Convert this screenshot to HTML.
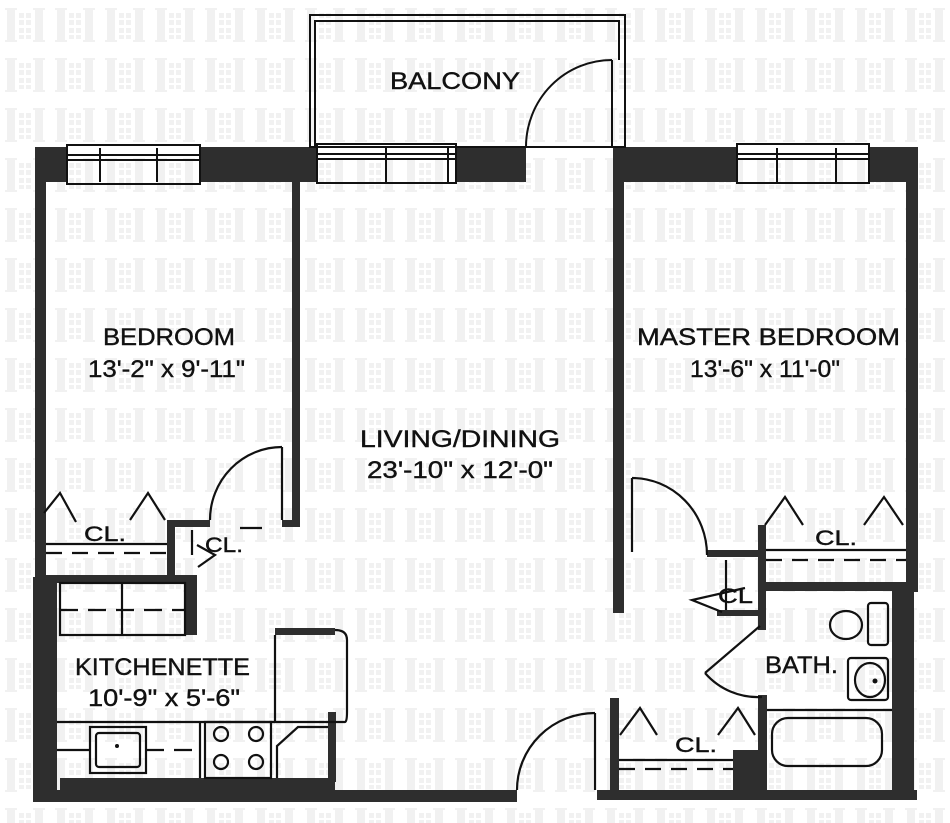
<!DOCTYPE html>
<html><head><meta charset="utf-8"><style>
html,body{margin:0;padding:0;background:#fff;}
svg{display:block}
text{font-family:"Liberation Sans Narrow","Liberation Sans",sans-serif;fill:#111;stroke:#111;stroke-width:0.4;}
</style></head><body>
<svg width="950" height="823" viewBox="0 0 950 823" xmlns="http://www.w3.org/2000/svg">
<defs>
<pattern id="wm" x="0" y="0" width="50" height="50" patternUnits="userSpaceOnUse">
<g fill="#f1f1f1">
<rect x="7" y="8" width="8" height="34"/>
<rect x="35" y="8" width="8" height="34"/>
<rect x="5" y="8" width="12" height="2"/><rect x="5" y="40" width="12" height="2"/>
<rect x="33" y="8" width="12" height="2"/><rect x="33" y="40" width="12" height="2"/>
<rect x="19" y="13" width="5" height="5"/><rect x="26" y="13" width="5" height="5"/>
<rect x="19" y="20" width="5" height="5"/><rect x="26" y="20" width="5" height="5"/>
<rect x="19" y="28" width="5" height="5"/><rect x="26" y="28" width="5" height="5"/>
<rect x="19" y="35" width="5" height="4"/><rect x="26" y="35" width="5" height="4"/>
</g>
</pattern>
</defs>
<rect width="950" height="823" fill="#fff"/>
<rect width="950" height="823" fill="url(#wm)"/>

<g fill="#2e2e2e">
<rect x="37" y="147" width="30" height="35"/>
<rect x="200" y="147" width="117" height="35"/>
<rect x="456" y="147" width="70" height="35"/>
<rect x="613" y="147" width="124" height="35"/>
<rect x="869" y="147" width="49" height="35"/>
<rect x="35" y="147" width="11" height="440"/>
<rect x="33" y="577" width="24" height="225"/>
<rect x="906" y="147" width="12" height="445"/>
<rect x="892" y="582" width="22" height="218"/>
<rect x="33" y="790" width="484" height="12"/>
<rect x="597" y="790" width="320" height="10"/>
<rect x="60" y="778" width="275" height="14"/>
<rect x="292" y="182" width="8" height="345"/>
<rect x="282" y="520" width="18" height="7"/>
<rect x="613" y="182" width="11" height="431"/>
<rect x="167" y="520" width="8" height="60"/>
<rect x="167" y="520" width="43" height="7"/>
<rect x="37" y="575" width="160" height="8"/>
<rect x="185" y="583" width="12" height="52"/>
<rect x="275" y="628" width="60" height="7"/>
<rect x="328" y="712" width="8" height="70"/>
<rect x="707" y="550" width="56" height="7"/>
<rect x="758" y="525" width="8" height="105"/>
<rect x="762" y="582" width="145" height="9"/>
<rect x="717" y="610" width="46" height="6"/>
<rect x="758" y="695" width="9" height="100"/>
<rect x="733" y="750" width="30" height="45"/>
<rect x="610" y="698" width="9" height="95"/>
</g>

<g fill="none" stroke="#111" stroke-width="2">
<rect x="310" y="15" width="315" height="132"/>
<polyline points="315,147 315,21 619,21 619,60"/>
<line x1="612" y1="60" x2="612" y2="147"/>
<path d="M612,60 A86,87 0 0 0 526,147"/>
</g>

<g fill="none" stroke="#111" stroke-width="2">
<rect x="67" y="145" width="133" height="39"/>
<line x1="67" y1="155" x2="200" y2="155"/><line x1="67" y1="160" x2="200" y2="160"/>
<line x1="100" y1="148" x2="100" y2="182"/><line x1="157" y1="148" x2="157" y2="182"/>
<rect x="317" y="144" width="139" height="39"/>
<line x1="317" y1="154" x2="456" y2="154"/><line x1="317" y1="159" x2="456" y2="159"/>
<line x1="386" y1="148" x2="386" y2="182"/><line x1="448" y1="148" x2="448" y2="182"/>
<rect x="737" y="144" width="132" height="39"/>
<line x1="737" y1="154" x2="869" y2="154"/><line x1="737" y1="159" x2="869" y2="159"/>
<line x1="777" y1="148" x2="777" y2="182"/><line x1="836" y1="148" x2="836" y2="182"/>
</g>

<g fill="none" stroke="#111" stroke-width="2.2">
<line x1="282" y1="447" x2="282" y2="520"/>
<path d="M282,447 A72,73 0 0 0 210,520"/>
<polyline points="44,513 60,493 76,522"/>
<polyline points="130,520 148,493 165,520"/>
<line x1="46" y1="544" x2="167" y2="544"/>
<line x1="46" y1="553" x2="167" y2="553" stroke-dasharray="16,10"/>
<line x1="192" y1="530" x2="192" y2="555"/>
<polyline points="197,545 215,555 198,567"/>
<line x1="240" y1="528" x2="262" y2="528"/>
<rect x="60" y="583" width="125" height="52"/>
<line x1="122" y1="583" x2="122" y2="635"/>
<line x1="60" y1="610" x2="185" y2="610" stroke-dasharray="18,10"/>
<path d="M275,635 L275,722 L345,722 Q347,722 347,712 L347,640 Q347,630 335,630"/>
<line x1="57" y1="722" x2="275" y2="722"/>
<rect x="90" y="727" width="56" height="46"/>
<rect x="96" y="733" width="44" height="34" rx="3"/>
<line x1="57" y1="750" x2="90" y2="750"/>
<line x1="146" y1="750" x2="200" y2="750" stroke-dasharray="18,10"/>
<line x1="200" y1="722" x2="200" y2="778"/>
<rect x="205" y="722" width="66" height="56"/>
<circle cx="221" cy="734" r="7"/><circle cx="256" cy="734" r="7"/>
<circle cx="221" cy="762" r="7"/><circle cx="256" cy="762" r="7"/>
<polyline points="277,778 277,746 298,727 328,727"/>
<line x1="595" y1="713" x2="595" y2="790"/>
<path d="M595,713 A78,77 0 0 0 517,790"/>
<line x1="632" y1="478" x2="632" y2="552"/>
<path d="M632,478 A75,77 0 0 1 707,555"/>
<polyline points="765,525 785,497 803,525"/>
<polyline points="864,525 884,497 903,525"/>
<line x1="766" y1="550" x2="906" y2="550"/>
<line x1="766" y1="560" x2="906" y2="560" stroke-dasharray="16,10"/>
<line x1="726" y1="560" x2="726" y2="610"/>
<polyline points="745,588 692,600 722,612"/>
<line x1="760" y1="626" x2="705" y2="673"/>
<path d="M705,673 A70,70 0 0 0 762,697"/>
<ellipse cx="846" cy="625" rx="16" ry="14"/>
<rect x="868" y="603" width="20" height="42" rx="3"/>
<rect x="848" y="658" width="40" height="42" rx="3"/>
<ellipse cx="870" cy="680" rx="15" ry="17"/>
<line x1="767" y1="710" x2="892" y2="710"/>
<rect x="772" y="718" width="110" height="48" rx="16"/>
<polyline points="620,735 640,708 657,735"/>
<polyline points="718,735 738,708 755,735"/>
<line x1="619" y1="760" x2="733" y2="760"/>
<line x1="619" y1="769" x2="733" y2="769" stroke-dasharray="16,10"/>
</g>
<circle cx="875" cy="681" r="2.5" fill="#111"/>
<circle cx="117" cy="746" r="2" fill="#111"/>

<g font-size="24">
<text x="390" y="89" textLength="130" lengthAdjust="spacingAndGlyphs">BALCONY</text>
<text x="103" y="345" textLength="132" lengthAdjust="spacingAndGlyphs">BEDROOM</text>
<text x="88" y="377" textLength="157" lengthAdjust="spacingAndGlyphs">13'-2" x 9'-11"</text>
<text x="637" y="345" textLength="263" lengthAdjust="spacingAndGlyphs">MASTER  BEDROOM</text>
<text x="690" y="377" textLength="150" lengthAdjust="spacingAndGlyphs">13'-6" x 11'-0"</text>
<text x="360" y="447" textLength="200" lengthAdjust="spacingAndGlyphs">LIVING/DINING</text>
<text x="367" y="478" textLength="186" lengthAdjust="spacingAndGlyphs">23'-10" x 12'-0"</text>
<text x="75" y="675" textLength="175" lengthAdjust="spacingAndGlyphs">KITCHENETTE</text>
<text x="88" y="706" textLength="152" lengthAdjust="spacingAndGlyphs">10'-9" x 5'-6"</text>
<text x="765" y="673" textLength="73" lengthAdjust="spacingAndGlyphs">BATH.</text>
</g>
<g font-size="21">
<text x="84" y="541" textLength="42" lengthAdjust="spacingAndGlyphs">CL.</text>
<text x="205" y="552" textLength="38" lengthAdjust="spacingAndGlyphs">CL.</text>
<text x="815" y="545" textLength="42" lengthAdjust="spacingAndGlyphs">CL.</text>
<text x="718" y="603" textLength="35" lengthAdjust="spacingAndGlyphs">CL</text>
<text x="675" y="752" textLength="42" lengthAdjust="spacingAndGlyphs">CL.</text>
</g>
</svg>
</body></html>
